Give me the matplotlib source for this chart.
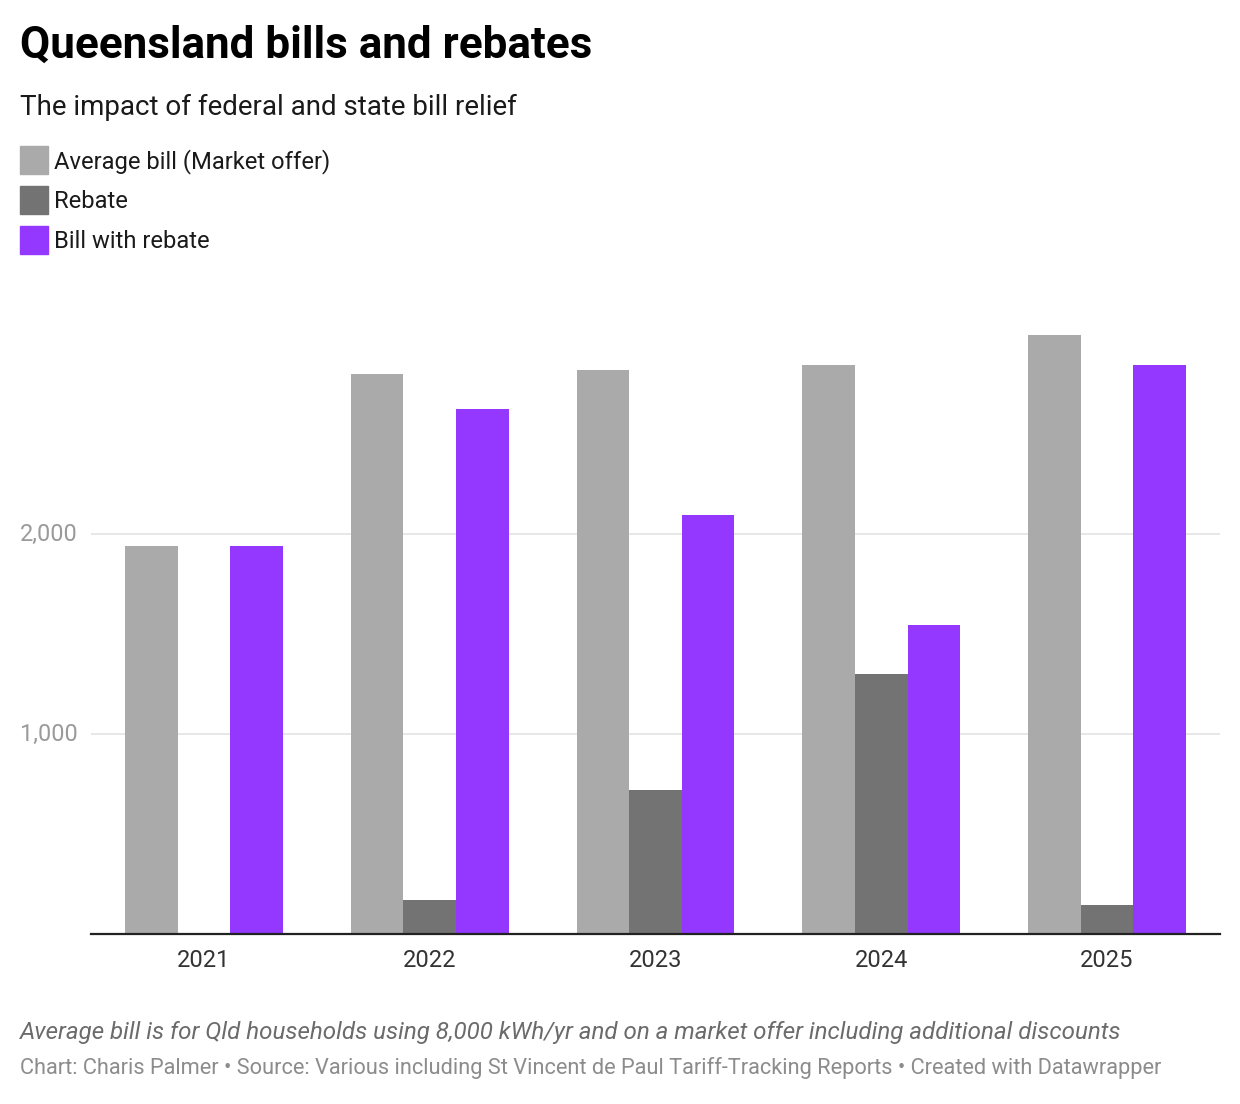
import matplotlib
matplotlib.use("Agg")
import matplotlib.pyplot as plt
import numpy as np

years = ["2021", "2022", "2023", "2024", "2025"]
avg_bill = [1940, 2800, 2820, 2845, 2995]
rebate = [0, 170, 720, 1300, 145]
bill_with_rebate = [1940, 2625, 2095, 1545, 2845]
series_names = ["Average bill (Market offer)", "Rebate", "Bill with rebate"]
colors = ["#aaaaaa", "#737373", "#9437ff"]
yticks = [1000, 2000]
ytick_labels = ["1,000", "2,000"]

W, H = 1240, 1104
fig = plt.figure(figsize=(W / 100, H / 100), dpi=100)
plt.rcParams['font.family'] = ['Roboto', 'DejaVu Sans']

def fx(x):
    return x / W

def fy(y):
    return 1 - y / H

ax_left, ax_right, ax_bottom, ax_top = 91, 1220, 934, 314
ax = fig.add_axes([fx(ax_left), fy(ax_bottom), (ax_right - ax_left) / W, (ax_bottom - ax_top) / H])

x = np.arange(len(years))
bw = 0.233
for i, (vals, c) in enumerate(zip([avg_bill, rebate, bill_with_rebate], colors)):
    ax.bar(x + (i - 1) * bw, vals, width=bw, color=c, zorder=2, linewidth=0)

ax.set_xlim(-0.5, len(years) - 0.5)
ax.set_ylim(0, 3100)
for s in ["top", "right", "left"]:
    ax.spines[s].set_visible(False)
ax.spines["bottom"].set_color("#222222")
ax.spines["bottom"].set_linewidth(1.6)
ax.spines["bottom"].set_zorder(3)
ax.set_xticks(x)
ax.set_xticklabels(years, fontsize=17, color="#333333")
ax.tick_params(axis="x", length=0, pad=11)
ax.set_yticks(yticks)
ax.set_yticklabels([])
ax.tick_params(axis="y", length=0)
ax.grid(axis="y", color="#e3e3e3", linewidth=1.2, zorder=0)
ax.set_axisbelow(True)

for v, lab in zip(yticks, ytick_labels):
    ax.text(fx(20), v, lab, transform=matplotlib.transforms.blended_transform_factory(fig.transFigure, ax.transData),
            ha="left", va="center", fontsize=16.9, color="#9a9a9a")

fig.text(fx(20), fy(46), "Queensland bills and rebates", fontsize=31.7, fontweight="bold",
         color="#000000", ha="left", va="center")
fig.text(fx(20), fy(107), "The impact of federal and state bill relief", fontsize=20,
         color="#1a1a1a", ha="left", va="center")

for i, (name, c) in enumerate(zip(series_names, colors)):
    yc = 160 + 40 * i
    fig.patches.append(matplotlib.patches.Rectangle((fx(20), fy(yc + 14)), 28 / W, 28 / H,
                                                    transform=fig.transFigure, color=c, figure=fig))
    fig.text(fx(54), fy(yc + 1.5), name, fontsize=17.1, color="#1a1a1a", ha="left", va="center")

fig.text(fx(20), fy(1032), "Average bill is for Qld households using 8,000 kWh/yr and on a market offer including additional discounts",
         fontsize=17.4, style="italic", color="#6b6b6b", ha="left", va="center")
fig.text(fx(20), fy(1068), "Chart: Charis Palmer \u2022 Source: Various including St Vincent de Paul Tariff-Tracking Reports \u2022 Created with Datawrapper",
         fontsize=15.7, color="#8c8c8c", ha="left", va="center")

fig.savefig("out.png", dpi=100, facecolor="white")
